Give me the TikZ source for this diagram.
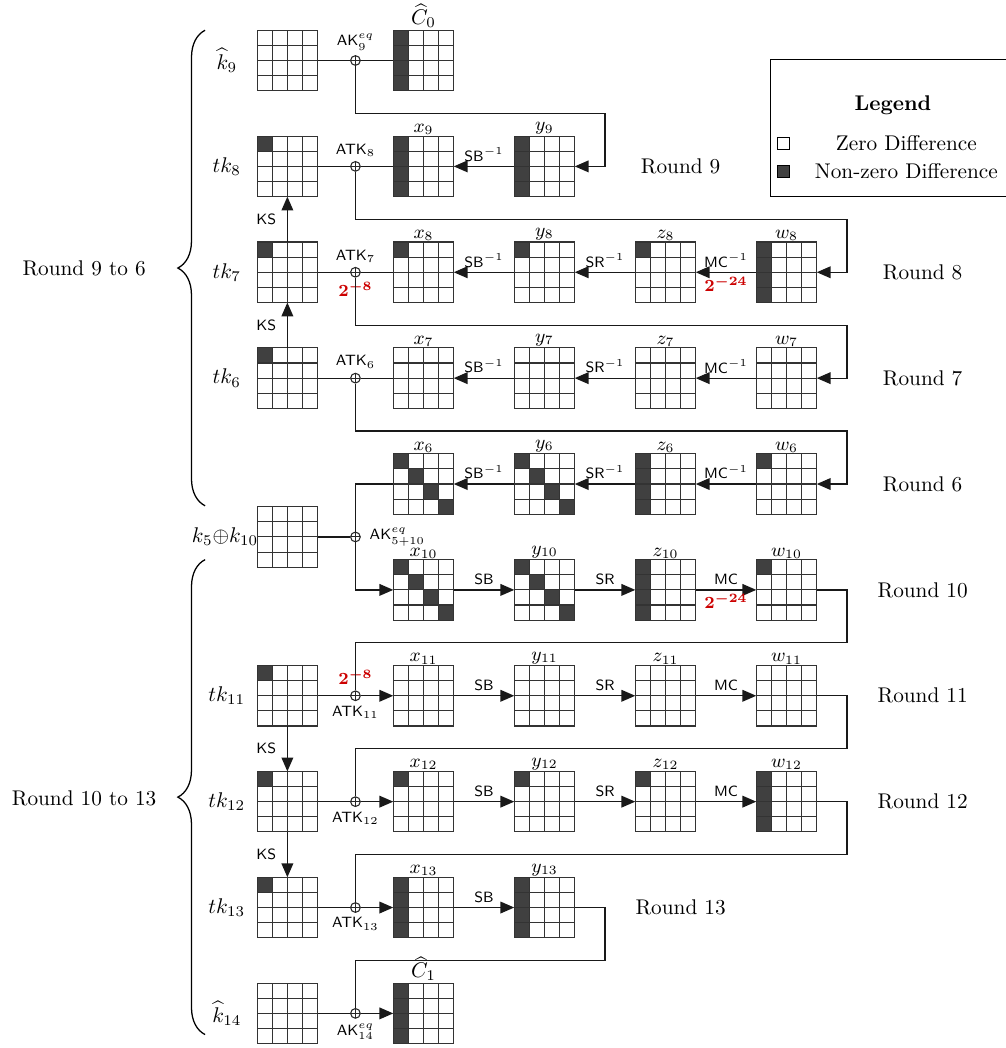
\documentclass[tikz,border=0pt]{standalone}
\usepackage{amsmath}
\usepackage{amssymb}
\usepackage{bm}
\usetikzlibrary{arrows.meta,decorations.pathreplacing,positioning}

\definecolor{darkcell}{HTML}{404040}
\definecolor{probred}{HTML}{CC0000}

\tikzset{
  statebox/.style={rectangle,minimum size=1cm,inner sep=0pt,outer sep=0pt},
  gridline/.style={step=0.25,draw=black!80,line width=0.5pt},
  conn/.style={draw=black!90,line width=0.6pt},
  flow/.style={conn,-{Triangle[length=6.5pt,width=5.5pt]}},
  xorop/.style={circle,draw=black!85,line width=0.5pt,fill=white,inner sep=0pt,minimum size=0.16cm,
    path picture={\draw[black!85,line width=0.5pt] (path picture bounding box.north)--(path picture bounding box.south)
      (path picture bounding box.west)--(path picture bounding box.east);}},
  oplab/.style={font=\sffamily\scriptsize,inner sep=2pt},
  toplab/.style={above,font=\small,inner sep=0.5pt},
  prob/.style={font=\footnotesize,text=probred,inner sep=1.5pt},
  roundbrace/.style={decorate,decoration={brace,amplitude=0.45cm},line width=0.6pt},
}

% name, x, y, dark cells (col/row)
\newcommand{\drawstate}[4]{%
  \begin{scope}[shift={(#2,#3)}]
    \node[statebox] (#1) at (0,0) {};
    \ifx\relax#4\relax\else
      \foreach \cx/\ry in {#4} {\fill[darkcell] (-0.5+0.25*\cx,0.5-0.25*\ry) rectangle ++(0.25,-0.25);}
    \fi
    \draw[gridline] (-0.5,-0.5) grid (0.5,0.5);
  \end{scope}
}

\begin{document}
\begin{tikzpicture}
\useasboundingbox (0,0) rectangle (16.628,-17.322);

% round 9 to 6
\drawstate{k9}{4.75}{-1}{}
\drawstate{C0}{7}{-1}{0/0,0/1,0/2,0/3}

\drawstate{tk8}{4.75}{-2.75}{0/0}
\drawstate{x9}{7}{-2.75}{0/0,0/1,0/2,0/3}
\drawstate{y9}{9}{-2.75}{0/0,0/1,0/2,0/3}

\drawstate{tk7}{4.75}{-4.5}{0/0}
\drawstate{x8}{7}{-4.5}{0/0}
\drawstate{y8}{9}{-4.5}{0/0}
\drawstate{z8}{11}{-4.5}{0/0}
\drawstate{w8}{13}{-4.5}{0/0,0/1,0/2,0/3}

\drawstate{tk6}{4.75}{-6.25}{0/0}
\drawstate{x7}{7}{-6.25}{}
\drawstate{y7}{9}{-6.25}{}
\drawstate{z7}{11}{-6.25}{}
\drawstate{w7}{13}{-6.25}{}

\drawstate{x6}{7}{-8}{0/0,1/1,2/2,3/3}
\drawstate{y6}{9}{-8}{0/0,1/1,2/2,3/3}
\drawstate{z6}{11}{-8}{0/0,0/1,0/2,0/3}
\drawstate{w6}{13}{-8}{0/0}

\drawstate{k510}{4.75}{-8.875}{}

% round 10 to 13
\drawstate{x10}{7}{-9.75}{0/0,1/1,2/2,3/3}
\drawstate{y10}{9}{-9.75}{0/0,1/1,2/2,3/3}
\drawstate{z10}{11}{-9.75}{0/0,0/1,0/2,0/3}
\drawstate{w10}{13}{-9.75}{0/0}

\drawstate{tk11}{4.75}{-11.5}{0/0}
\drawstate{x11}{7}{-11.5}{}
\drawstate{y11}{9}{-11.5}{}
\drawstate{z11}{11}{-11.5}{}
\drawstate{w11}{13}{-11.5}{}

\drawstate{tk12}{4.75}{-13.25}{0/0}
\drawstate{x12}{7}{-13.25}{0/0}
\drawstate{y12}{9}{-13.25}{0/0}
\drawstate{z12}{11}{-13.25}{0/0}
\drawstate{w12}{13}{-13.25}{0/0,0/1,0/2,0/3}

\drawstate{tk13}{4.75}{-15}{0/0}
\drawstate{x13}{7}{-15}{0/0,0/1,0/2,0/3}
\drawstate{y13}{9}{-15}{0/0,0/1,0/2,0/3}

\drawstate{k14}{4.75}{-16.75}{}
\drawstate{C1}{7}{-16.75}{0/0,0/1,0/2,0/3}

% state names
\foreach \v/\i in {x/9,y/9,x/8,y/8,z/8,w/8,x/7,y/7,z/7,w/7,x/6,y/6,z/6,w/6,
  x/10,y/10,z/10,w/10,x/11,y/11,z/11,w/11,x/12,y/12,z/12,w/12,x/13,y/13}
  \node[toplab] at (\v\i.north) {$\v_{\i}$};
\node[above,inner sep=1pt] at (C0.north) {$\widehat{C}_0$};
\node[above,inner sep=1pt] at (C1.north) {$\widehat{C}_1$};

\node (lk9) at (3.75,-1) {$\widehat{k}_9$};
\node (ltk8) at (3.75,-2.75) {$tk_8$};
\node (ltk7) at (3.75,-4.5) {$tk_7$};
\node (ltk6) at (3.75,-6.25) {$tk_6$};
\node (lk510) at (3.72,-8.875) {$k_5{\oplus}k_{10}$};
\node (ltk11) at (3.75,-11.5) {$tk_{11}$};
\node (ltk12) at (3.75,-13.25) {$tk_{12}$};
\node (ltk13) at (3.75,-15) {$tk_{13}$};
\node (lk14) at (3.75,-16.75) {$\widehat{k}_{14}$};

% key additions
\node[xorop] (ak9) at (5.875,-1) {};
\node[xorop] (atk8) at (5.875,-2.75) {};
\node[xorop] (atk7) at (5.875,-4.5) {};
\node[xorop] (atk6) at (5.875,-6.25) {};
\node[xorop] (ak510) at (5.875,-8.875) {};
\node[xorop] (atk11) at (5.875,-11.5) {};
\node[xorop] (atk12) at (5.875,-13.25) {};
\node[xorop] (atk13) at (5.875,-15) {};
\node[xorop] (ak14) at (5.875,-16.75) {};

\node[oplab,above=0pt of ak9] {AK$_9^{eq}$};
\node[oplab,above=0pt of atk8] {ATK$_8$};
\node[oplab,above=0pt of atk7] {ATK$_7$};
\node[prob,below=0pt of atk7] {$\bm{2^{-8}}$};
\node[oplab,above=0pt of atk6] {ATK$_6$};
\node[oplab,right=2pt of ak510] {AK$_{5+10}^{eq}$};
\node[prob,above=1pt of atk11] {$\bm{2^{-8}}$};
\node[oplab,below=0pt of atk11] {ATK$_{11}$};
\node[oplab,below=0pt of atk12] {ATK$_{12}$};
\node[oplab,below=0pt of atk13] {ATK$_{13}$};
\node[oplab,below=0pt of ak14] {AK$_{14}^{eq}$};

% turning points of the loops
\coordinate (t0) at (10,-1.875);
\coordinate (t1) at (14,-3.625);
\coordinate (t2) at (14,-5.375);
\coordinate (t3) at (14,-7.125);
\coordinate (t5) at (14,-10.625);
\coordinate (t6) at (14,-12.375);
\coordinate (t7) at (14,-14.125);
\coordinate (t8) at (10,-15.875);

% backward rounds
\draw[conn] (k9) -- (ak9) -- (C0);
\draw[flow] (ak9) |- (t0) |- (y9);

\draw[flow] (y9) -- node[oplab,above]{SB$^{-1}$} (x9);
\draw[conn] (x9) -- (atk8) -- (tk8);
\draw[flow] (atk8) |- (t1) |- (w8);

\draw[flow] (w8) -- node[oplab,above]{MC$^{-1}$} node[prob,below]{$\bm{2^{-24}}$} (z8);
\draw[flow] (z8) -- node[oplab,above]{SR$^{-1}$} (y8);
\draw[flow] (y8) -- node[oplab,above]{SB$^{-1}$} (x8);
\draw[conn] (x8) -- (atk7) -- (tk7);
\draw[flow] (atk7) |- (t2) |- (w7);

\draw[flow] (w7) -- node[oplab,above]{MC$^{-1}$} (z7);
\draw[flow] (z7) -- node[oplab,above]{SR$^{-1}$} (y7);
\draw[flow] (y7) -- node[oplab,above]{SB$^{-1}$} (x7);
\draw[conn] (x7) -- (atk6) -- (tk6);
\draw[flow] (atk6) |- (t3) |- (w6);

\draw[flow] (w6) -- node[oplab,above]{MC$^{-1}$} (z6);
\draw[flow] (z6) -- node[oplab,above]{SR$^{-1}$} (y6);
\draw[flow] (y6) -- node[oplab,above]{SB$^{-1}$} (x6);
\draw[conn] (x6) -| (ak510);
\draw[conn] (k510) -- (ak510);

% forward rounds
\draw[flow] (ak510) |- (x10);
\draw[flow] (x10) -- node[oplab,above]{SB} (y10);
\draw[flow] (y10) -- node[oplab,above]{SR} (z10);
\draw[flow] (z10) -- node[oplab,above]{MC} node[prob,below]{$\bm{2^{-24}}$} (w10);
\draw[conn] (w10) -| (t5) -| (atk11);

\draw[conn] (tk11) -- (atk11);
\draw[flow] (atk11) -- (x11);
\draw[flow] (x11) -- node[oplab,above]{SB} (y11);
\draw[flow] (y11) -- node[oplab,above]{SR} (z11);
\draw[flow] (z11) -- node[oplab,above]{MC} (w11);
\draw[conn] (w11) -| (t6) -| (atk12);

\draw[conn] (tk12) -- (atk12);
\draw[flow] (atk12) -- (x12);
\draw[flow] (x12) -- node[oplab,above]{SB} (y12);
\draw[flow] (y12) -- node[oplab,above]{SR} (z12);
\draw[flow] (z12) -- node[oplab,above]{MC} (w12);
\draw[conn] (w12) -| (t7) -| (atk13);

\draw[conn] (tk13) -- (atk13);
\draw[flow] (atk13) -- (x13);
\draw[flow] (x13) -- node[oplab,above]{SB} (y13);
\draw[conn] (y13) -| (t8) -| (ak14);

\draw[conn] (k14) -- (ak14);
\draw[flow] (ak14) -- (C1);

% key schedule
\draw[flow] (tk7) -- node[oplab,left=3pt]{KS} (tk8);
\draw[flow] (tk6) -- node[oplab,left=3pt]{KS} (tk7);
\draw[flow] (tk11) -- node[oplab,left=3pt]{KS} (tk12);
\draw[flow] (tk12) -- node[oplab,left=3pt]{KS} (tk13);

% round names
\node (r9) at (11.25,-2.75) {Round 9};
\node (r8) at (15.25,-4.5) {Round 8};
\node (r7) at (15.25,-6.25) {Round 7};
\node (r6) at (15.25,-8) {Round 6};
\node (r10) at (15.25,-9.75) {Round 10};
\node (r11) at (15.25,-11.5) {Round 11};
\node (r12) at (15.25,-13.25) {Round 12};
\node (r13) at (11.25,-15) {Round 13};

\draw[roundbrace] (3.39,-8.36) -- (3.39,-0.5);
\draw[roundbrace] (3.39,-17.1) -- (3.39,-9.25);
\node (upper) at (1.39,-4.43) {Round 9 to 6};
\node (lower) at (1.39,-13.19) {Round 10 to 13};

% legend
\draw[line width=0.5pt] (16.628,-0.99) -- (12.74,-0.99) -- (12.74,-3.24) -- (16.628,-3.24);
\node[font=\bfseries] (legtitle) at (14.76,-1.74) {Legend};
\node[draw,line width=0.5pt,minimum size=0.21cm,inner sep=0pt] (zerobox) at (12.95,-2.37) {};
\node (zerotxt) at (14.98,-2.37) {Zero Difference};
\node[draw,line width=0.5pt,fill=darkcell,minimum size=0.21cm,inner sep=0pt] (nzbox) at (12.95,-2.835) {};
\node (nztxt) at (14.98,-2.835) {Non-zero Difference};

\end{tikzpicture}
\end{document}
